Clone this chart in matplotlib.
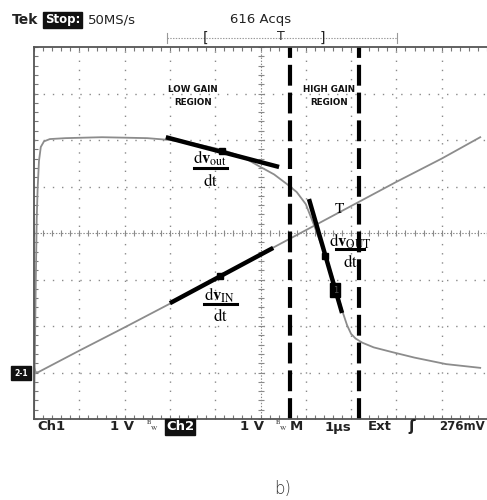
import numpy as np
import matplotlib
matplotlib.use("Agg")
from matplotlib import pyplot as plt
from matplotlib.lines import Line2D

plt.rcParams['lines.scale_dashes'] = False
plt.rcParams['mathtext.fontset'] = 'stix'

# screen is 10 x 8 divisions, values below are in divisions (y: -4..4)
out_x = [0.0, 0.02, 0.04, 0.06, 0.08, 0.11, 0.15, 0.22, 0.35, 0.7, 1.5, 2.5, 3.0, 3.5,
         4.15, 4.6, 5.0, 5.3, 5.6, 5.8, 6.0, 6.17, 6.33, 6.48, 6.65, 6.8, 6.91, 7.0, 7.1,
         7.25, 7.5, 7.9, 8.4, 9.1, 9.85]
out_y = [-4.0, -2.5, -1.0, 0.3, 0.95, 1.55, 1.85, 1.97, 2.02, 2.04, 2.06, 2.04, 2.0, 1.93,
         1.79, 1.64, 1.42, 1.26, 1.04, 0.88, 0.62, 0.2, -0.22, -0.62, -1.12, -1.66, -1.98,
         -2.17, -2.27, -2.36, -2.46, -2.56, -2.68, -2.82, -2.9]

in_x = [0.0, 0.04, 0.1, 1, 2, 3, 4, 5, 6, 7, 8, 9, 9.85]
in_y = [-2.88, -3.0, -2.99, -2.53, -2.03, -1.52, -0.99, -0.46, 0.06, 0.58, 1.1, 1.6, 2.06]

# tangent segments (x0, y0, x1, y1) and touch points
tangents = [(2.91, 2.06, 5.41, 1.42), (3.0, -1.51, 5.28, -0.32), (6.07, 0.73, 6.80, -1.72)]
touch_x = [4.15, 4.11, 6.43]
touch_y = [1.77, -0.92, -0.49]

region_bounds = [5.65, 7.17]

W, H = 487, 500
fig = plt.figure(figsize=(4.87, 5.0), dpi=100)
ax = fig.add_axes([34 / W, 81 / H, 453 / W, 372 / H])
ax.set_xlim(0, 453 / 46)
ax.set_ylim(-4, 4)


def fx(px):
    return px / W


def fy(py):
    return 1 - py / H


# graticule
grid_c = '#8a8a8a'
for gx in range(1, 10):
    if gx != 5:
        ax.axvline(gx, color=grid_c, lw=1.0, ls=(0, (1, 5.6)))
for gy in range(-3, 4):
    if gy != 0:
        ax.axhline(gy, color=grid_c, lw=1.0, ls=(0, (1, 5.6)))
ax.axvline(5, color=grid_c, lw=0.8, ls=(0, (1, 1.2)))
ax.axhline(0, color=grid_c, lw=0.8, ls=(0, (1, 1.2)))
mx = np.arange(0, 10.01, 0.2)
my = np.arange(-4, 4.01, 0.2)
ax.plot(mx, np.zeros_like(mx), ls='none', marker='|', ms=5, mew=0.8, color=grid_c)
ax.plot(np.full_like(my, 5), my, ls='none', marker='_', ms=5, mew=0.8, color=grid_c)

for s in ['top', 'left', 'bottom']:
    ax.spines[s].set_color('#555555')
    ax.spines[s].set_linewidth(1.3)
ax.spines['right'].set_visible(False)
ax.set_xticks(np.arange(0, 10, 1))
ax.set_xticks(mx, minor=True)
ax.set_yticks(np.arange(-4, 5, 1))
ax.set_yticks(my, minor=True)
ax.tick_params(which='both', direction='in', length=3, width=0.8, color='#777777',
               top=True, bottom=True, left=True, right=False,
               labelbottom=False, labelleft=False)

# traces
ax.plot(in_x, in_y, color='#8c8c8c', lw=1.3)
ax.plot(out_x, out_y, color='#8c8c8c', lw=1.3)

for x0, y0, x1, y1 in tangents:
    ax.plot([x0, x1], [y0, y1], color='black', lw=3.2, solid_capstyle='butt')
ax.plot(touch_x, touch_y, ls='none', marker='s', ms=4.5, color='black')
ax.text(6.65, -1.23, '1', color='#555555', fontsize=6, ha='center', va='center',
        bbox=dict(fc='black', ec='black', pad=1.6))

for bx in region_bounds:
    ax.axvline(bx, color='black', lw=3, ls=(0, (15, 5)))

# region labels
ax_txt = dict(ha='center', va='center', fontsize=6.3, fontweight='bold', color='#111111')
fig.text(fx(193), fy(96), 'LOW GAIN\nREGION', linespacing=1.5, **ax_txt)
fig.text(fx(329), fy(96), 'HIGH GAIN\nREGION', linespacing=1.5, **ax_txt)


def frac(xc, ynum, ybar, yden, num, w):
    fig.text(fx(xc), fy(ynum), num, ha='center', va='center', fontsize=12)
    fig.add_artist(Line2D([fx(xc - w / 2), fx(xc + w / 2)], [fy(ybar)] * 2,
                          color='black', lw=2.2))
    fig.text(fx(xc), fy(yden), r'$\mathrm{dt}$', ha='center', va='center', fontsize=12)


frac(210, 158, 168, 181, r'$\mathrm{d}\mathbf{v}_{\mathrm{out}}$', 33)
frac(350, 241, 249, 262, r'$\mathrm{d}\mathbf{v}_{\mathrm{OUT}}$', 28)
frac(220, 295, 304, 316, r'$\mathrm{d}\mathbf{v}_{\mathrm{IN}}$', 33)
fig.text(fx(340), fy(209), r'$\mathrm{T}$', ha='center', va='center', fontsize=11)

# scope header
hdr = dict(va='center', fontsize=10, color='#222222', fontweight='bold')
fig.text(fx(12), fy(20), 'Tek', **hdr)
fig.text(fx(45), fy(20), 'Stop:', color='white', fontweight='bold', fontsize=8.5, va='center',
         bbox=dict(fc='#111111', ec='#111111', pad=1.2))
fig.text(fx(88), fy(20), '50MS/s', va='center', fontsize=9.5, color='#222222')
fig.text(fx(261), fy(20), '616 Acqs', ha='center', va='center', fontsize=9.5, color='#222222')

fig.add_artist(Line2D([fx(167), fx(397)], [fy(38)] * 2, color='#999999', lw=0.8, ls=(0, (1, 1))))
for ex in [167, 397]:
    fig.add_artist(Line2D([fx(ex)] * 2, [fy(33), fy(43)], color='#999999', lw=0.8))
fig.text(fx(206), fy(38), '[', ha='center', va='center', fontsize=10, color='#222222')
fig.text(fx(281), fy(37), 'T', ha='center', va='center', fontsize=9, color='#222222')
fig.text(fx(322), fy(38), ']', ha='center', va='center', fontsize=10, color='#222222')

# ground marker
fig.text(fx(21), fy(373), '2-1', color='white', fontsize=5.5, ha='center', va='center',
         fontweight='bold', bbox=dict(fc='#111111', ec='#111111', pad=2.0))

# scope footer
ft = dict(va='center', fontsize=9.5, color='#222222', fontweight='bold')
fig.text(fx(37), fy(427), 'Ch1', **ft)
fig.text(fx(110), fy(427), '1 V', **ft)
fig.text(fx(146), fy(426), r'$^{\mathrm{B}}\!_{\mathrm{W}}$', va='center', fontsize=7, color='#333333')
fig.text(fx(166), fy(427), 'Ch2', color='white', fontsize=9.5, fontweight='bold', va='center',
         bbox=dict(fc='#111111', ec='#111111', pad=0.8))
fig.text(fx(240), fy(427), '1 V', **ft)
fig.text(fx(275), fy(426), r'$^{\mathrm{B}}\!_{\mathrm{W}}$', va='center', fontsize=7, color='#333333')
fig.text(fx(290), fy(427), 'M', **ft)
fig.text(fx(325), fy(427), '1µs', **ft)
fig.text(fx(368), fy(427), 'Ext', **ft)
fig.text(fx(408), fy(427), 'ʃ', fontsize=11, fontweight='bold', va='center', color='#222222')
fig.text(fx(439), fy(427), '276mV', va='center', fontsize=8.5, color='#222222', fontweight='bold')

fig.text(fx(283), fy(489), 'b)', ha='center', va='center', fontsize=12, color='#333333',
         family='DejaVu Sans', fontweight='light')

fig.savefig('out.png', dpi=100)
